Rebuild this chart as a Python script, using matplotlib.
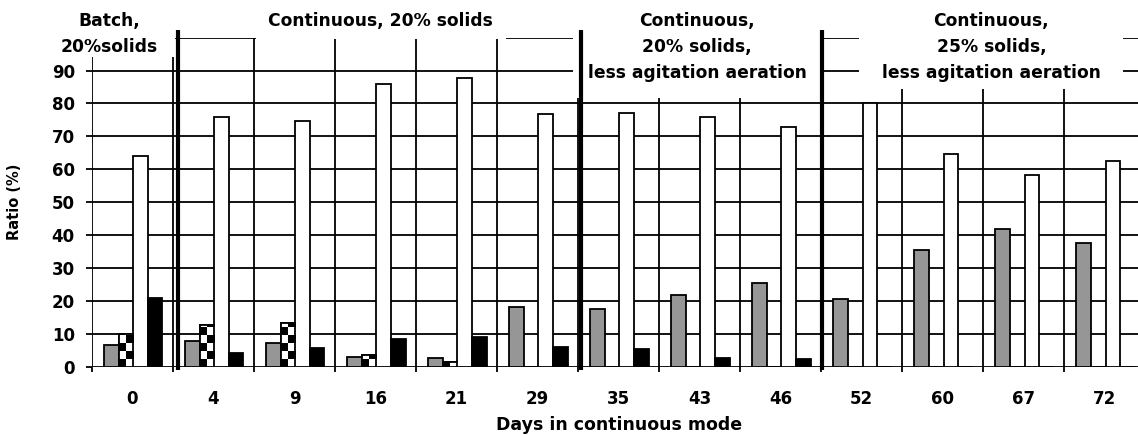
import numpy as np
import matplotlib
matplotlib.use("Agg")
import matplotlib.pyplot as plt
from matplotlib.patches import Rectangle

# days in continuous mode (categories)
days = ["0", "4", "9", "16", "21", "29", "35", "43", "46", "52", "60", "67", "72"]

# ratio (%) per series
gray_vals = [6.7, 7.8, 7.2, 3.0, 2.5, 18.2, 17.6, 21.8, 25.4, 20.6, 35.6, 41.8, 37.6]
checker_vals = [10.0, 12.6, 13.3, 3.6, 1.5, 0, 0, 0, 0, 0, 0, 0, 0]
white_vals = [64.0, 76.0, 74.8, 86.0, 87.6, 76.7, 77.2, 76.0, 73.0, 80.0, 64.5, 58.4, 62.6]
black_vals = [20.8, 4.3, 5.6, 8.5, 9.0, 6.0, 5.4, 2.5, 2.4, 0, 0, 0, 0]

y_ticks = [0, 10, 20, 30, 40, 50, 60, 70, 80, 90, 100]
y_tick_labels = ["0", "10", "20", "30", "40", "50", "60", "70", "80", "90", ""]

# phase headers
phase_labels = ["Batch,\n20%solids",
                "Continuous, 20% solids",
                "Continuous,\n20% solids,\nless agitation aeration",
                "Continuous,\n25% solids,\nless agitation aeration"]

plt.rcParams['font.family'] = ['DejaVu Sans']
plt.rcParams['font.weight'] = 'bold'

fig = plt.figure(figsize=(11.38, 4.36), dpi=100)
ax = fig.add_axes([0.0808, 0.159, 0.9256, 0.7546])

x = np.arange(len(days))
w = 0.18
lw = 1.3

ax.bar(x - 1.5 * w + 0.01, gray_vals, w, color="#969696", edgecolor="black", linewidth=lw, zorder=2)
checker_bars = ax.bar(x - 0.5 * w + 0.01, checker_vals, w, color="white", edgecolor="black", linewidth=lw, zorder=2)
ax.bar(x + 0.5 * w + 0.01, white_vals, w, color="white", edgecolor="black", linewidth=lw, zorder=2)
ax.bar(x + 1.5 * w + 0.01, black_vals, w, color="black", edgecolor="black", linewidth=lw, zorder=2)

# checkerboard fill for the second series
cell_h = 2.4
for b in checker_bars:
    h = b.get_height()
    if h <= 0:
        continue
    nrows = int(np.ceil(h / cell_h))
    pat = np.indices((nrows, 2)).sum(axis=0) % 2
    im = ax.imshow(pat, cmap="gray", origin="lower", interpolation="nearest", aspect="auto",
                   extent=(b.get_x(), b.get_x() + b.get_width(), 0, nrows * cell_h), zorder=2.1)
    im.set_clip_path(b)
    ax.add_patch(Rectangle((b.get_x(), 0), b.get_width(), h, fill=False, edgecolor="black",
                           linewidth=lw, zorder=2.2))

ax.set_xlim(-0.5, len(days) - 0.5)
ax.set_ylim(0, 100)

ax.set_yticks(y_ticks)
ax.set_yticklabels(y_tick_labels)
ax.set_xticks(x)
ax.set_xticklabels(days)
ax.set_xticks(np.arange(len(days) + 1) - 0.5, minor=True)

ax.tick_params(axis="y", which="major", length=4.3, width=lw, direction="out", pad=8, labelsize=12)
ax.tick_params(axis="x", which="major", length=0, pad=17, labelsize=12)
ax.tick_params(axis="x", which="minor", length=3.6, width=lw, direction="out")

ax.grid(axis="y", which="major", color="black", linewidth=lw, zorder=0.5)
ax.grid(axis="x", which="minor", color="black", linewidth=lw, zorder=0.5)
ax.set_axisbelow(True)
for s in ax.spines.values():
    s.set_visible(False)

ax.set_ylabel("Ratio (%)", fontsize=10.5, fontweight="bold")
ax.yaxis.set_label_coords(-0.0665, 0.5)
ax.set_xlabel("Days in continuous mode", fontsize=12.5, fontweight="bold")
ax.xaxis.set_label_coords(0.5, -0.15)

# white covers behind the phase headers
covers = [(-1.2, 94.2, 0.53), (1.52, 99.6, 4.61), (5.44, 81.8, 8.49), (8.97, 84.5, 12.23)]
for x0, y0, x1 in covers:
    ax.add_patch(Rectangle((x0, y0), x1 - x0, 30, facecolor="white", edgecolor="none",
                           clip_on=False, zorder=3))

# heavy phase separators
for xs in [0.56, 5.53, 8.51]:
    ax.plot([xs, xs], [-1, 102.3], color="black", linewidth=3, clip_on=False, zorder=4,
            solid_capstyle="butt")

text_pos = [(-0.29, 101.2), (3.06, 105.1), (6.97, 97.2), (10.6, 97.2)]
for (tx, ty), lab in zip(text_pos, phase_labels):
    ax.text(tx, ty, lab, ha="center", va="center", multialignment="center",
            fontsize=12.3, fontweight="bold", linespacing=1.58, zorder=5, clip_on=False)

fig.savefig("out.png", dpi=100)
